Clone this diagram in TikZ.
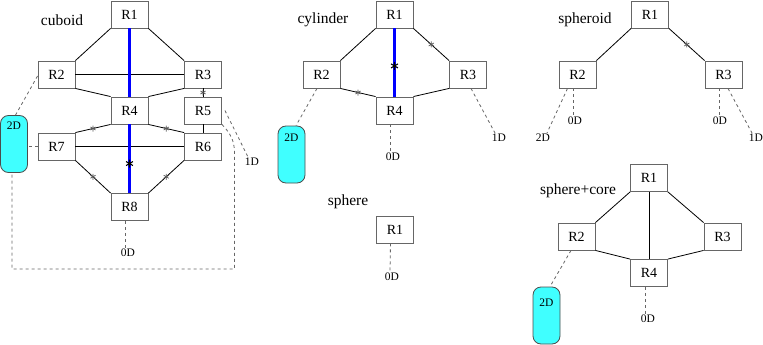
\documentclass[tikz,border=0pt]{standalone}
\usepackage{fontspec}
\setmainfont{Liberation Serif}
\definecolor{capcyan}{RGB}{64,255,255}
\begin{document}
\begin{tikzpicture}[x=1pt,y=-1pt,
  box/.style={draw=black!60, fill=white, line width=0.9pt, minimum width=37pt, minimum height=27pt, inner sep=0pt, font=\fontsize{14}{16}\selectfont},
  edge/.style={black, line width=0.8pt},
  bedge/.style={blue, line width=3pt},
  dline/.style={black!60, line width=0.8pt, dash pattern=on 3pt off 3pt},
  capsule/.style={draw=black!70, fill=capcyan, line width=0.8pt, rounded corners=8pt, minimum width=27pt, minimum height=57pt, inner sep=0pt},
  dlab/.style={font=\fontsize{11.5}{12}\selectfont, inner sep=1pt},
  title/.style={font=\fontsize{15.5}{17}\selectfont, inner sep=0pt},
  ast/.style={circle, inner sep=0pt, minimum size=9pt, path picture={\draw[black!65, line width=0.7pt] (path picture bounding box.center) +(90:3pt) -- +(270:3pt) +(30:3pt) -- +(210:3pt) +(150:3pt) -- +(330:3pt);}},
  bast/.style={circle, inner sep=0pt, minimum size=11pt, path picture={\draw[black, line width=1.1pt] (path picture bounding box.center) +(90:4pt) -- +(270:4pt) +(30:4pt) -- +(210:4pt) +(150:4pt) -- +(330:4pt);}}
]
\useasboundingbox (0,0) rectangle (763,345);

% ---------------- cuboid ----------------
\node[title] (tcub) at (62,20) {cuboid};
\node[box] (a1) at (129.5,14.5) {R1};
\node[box] (a2) at (56.5,74.5) {R2};
\node[box] (a3) at (203,74.5) {R3};
\node[box] (a4) at (129.5,110.5) {R4};
\node[box] (a5) at (203,110.5) {R5};
\node[box] (a6) at (203,146.5) {R6};
\node[box] (a7) at (56.5,146.5) {R7};
\node[box] (a8) at (129.5,207) {R8};
\node[capsule] (ac) at (14,144) {};
\node[dlab] (ac2d) at (14,126) {2D};
\node[dlab] (a0d) at (128,253) {0D};
\node[dlab] (a1d) at (252,162) {1D};

\draw[edge] (a1.south west) -- (a2.north east);
\draw[edge] (a1.south east) -- (a3.north west);
\draw[edge] (a2.east) -- (a3.west);
\draw[edge] (a2.south east) -- (a4.north west);
\draw[edge] (a3.south west) -- (a4.north east);
\draw[edge] (a3.south) -- node[ast]{} (a5.north);
\draw[edge] (a5.south) -- (a6.north);
\draw[edge] (a4.south west) -- node[ast]{} (a7.north east);
\draw[edge] (a4.south east) -- node[ast]{} (a6.north west);
\draw[edge] (a7.east) -- (a6.west);
\draw[edge] (a7.south east) -- node[ast]{} (a8.north west);
\draw[edge] (a6.south west) -- node[ast]{} (a8.north east);
\draw[bedge] (a1.south) -- (a4.north);
\draw[bedge] (a4.south) -- node[bast,pos=0.57]{} (a8.north);

\draw[dline] ([yshift=-1.5pt]a2.west) -- ([xshift=1.5pt]ac.north);
\draw[dline] (a7.west) -- (ac.east |- a7.west);
\draw[dline] ([xshift=-4.5pt]a8.south) -- ([xshift=-3pt]a0d.north);
\draw[dline] ([xshift=3pt]a5.east) -- ([xshift=-4pt]a1d.north);
\draw[dline] (a5.south east) .. controls (230,133) and (234.5,140) .. (234.5,153) -- (234.5,269) -- (12,269) -- ([xshift=-2pt]ac.south);

% ---------------- cylinder ----------------
\node[title] (tcyl) at (323,20) {cylinder};
\node[box] (b1) at (394.5,14.5) {R1};
\node[box] (b2) at (321.5,74.5) {R2};
\node[box] (b3) at (468,74.5) {R3};
\node[box] (b4) at (394.5,110.5) {R4};
\node[capsule] (bc) at (291.5,154.5) {};
\node[dlab] (bc2d) at (291.5,138) {2D};
\node[dlab] (b0d) at (393,157) {0D};
\node[dlab] (b1d) at (499,138) {1D};

\draw[edge] (b1.south west) -- (b2.north east);
\draw[edge] (b1.south east) -- node[ast]{} (b3.north west);
\draw[edge] (b2.south east) -- node[ast]{} (b4.north west);
\draw[edge] (b3.south west) -- (b4.north east);
\draw[bedge] (b1.south) -- node[bast,pos=0.55]{} (b4.north);

\draw[dline] ([xshift=-4.5pt]b2.south) -- ([xshift=4.5pt]bc.north);
\draw[dline] ([xshift=-4.5pt]b4.south) -- ([xshift=-3pt]b0d.north);
\draw[dline] ([xshift=3pt]b3.south) -- ([xshift=-4pt]b1d.north);

% ---------------- spheroid ----------------
\node[title] (tsph) at (585,20) {spheroid};
\node[box] (c1) at (650,14.5) {R1};
\node[box] (c2) at (577.5,74.5) {R2};
\node[box] (c3) at (723.5,74.5) {R3};
\node[dlab] (c2d) at (543,138) {2D};
\node[dlab] (c0da) at (575,121) {0D};
\node[dlab] (c0db) at (720,121) {0D};
\node[dlab] (c1d) at (756,138) {1D};

\draw[edge] (c1.south west) -- (c2.north east);
\draw[edge] (c1.south east) -- node[ast]{} (c3.north west);

\draw[dline] ([xshift=-10pt]c2.south) -- ([xshift=4pt]c2d.north);
\draw[dline] ([xshift=-4.5pt]c2.south) -- ([xshift=-2pt]c0da.north);
\draw[dline] ([xshift=-4.5pt]c3.south) -- ([xshift=-1pt]c0db.north);
\draw[dline] ([xshift=4.5pt]c3.south) -- ([xshift=-4pt]c1d.north);

% ---------------- sphere ----------------
\node[title] (tsp) at (348,202) {sphere};
\node[box] (d1) at (395,229.5) {R1};
\node[dlab] (d0d) at (392,277) {0D};
\draw[dline] ([xshift=-4.5pt]d1.south) -- ([xshift=-2pt]d0d.north);

% ---------------- sphere+core ----------------
\node[title] (tspc) at (578,191) {sphere+core};
\node[box] (e1) at (649,178) {R1};
\node[box] (e2) at (576.5,236.5) {R2};
\node[box] (e3) at (722.5,236.5) {R3};
\node[box] (e4) at (649,273) {R4};
\node[capsule] (ec) at (546.5,315.5) {};
\node[dlab] (ec2d) at (546.5,303) {2D};
\node[dlab] (e0d) at (648,319) {0D};

\draw[edge] (e1.south west) -- (e2.north east);
\draw[edge] (e1.south east) -- (e3.north west);
\draw[edge] (e2.south east) -- (e4.north west);
\draw[edge] (e3.south west) -- (e4.north east);
\draw[edge] (e1.south) -- (e4.north);

\draw[dline] ([xshift=-5.5pt]e2.south) -- ([xshift=3.5pt]ec.north);
\draw[dline] ([xshift=-4pt]e4.south) -- ([xshift=-3pt]e0d.north);
\end{tikzpicture}
\end{document}
